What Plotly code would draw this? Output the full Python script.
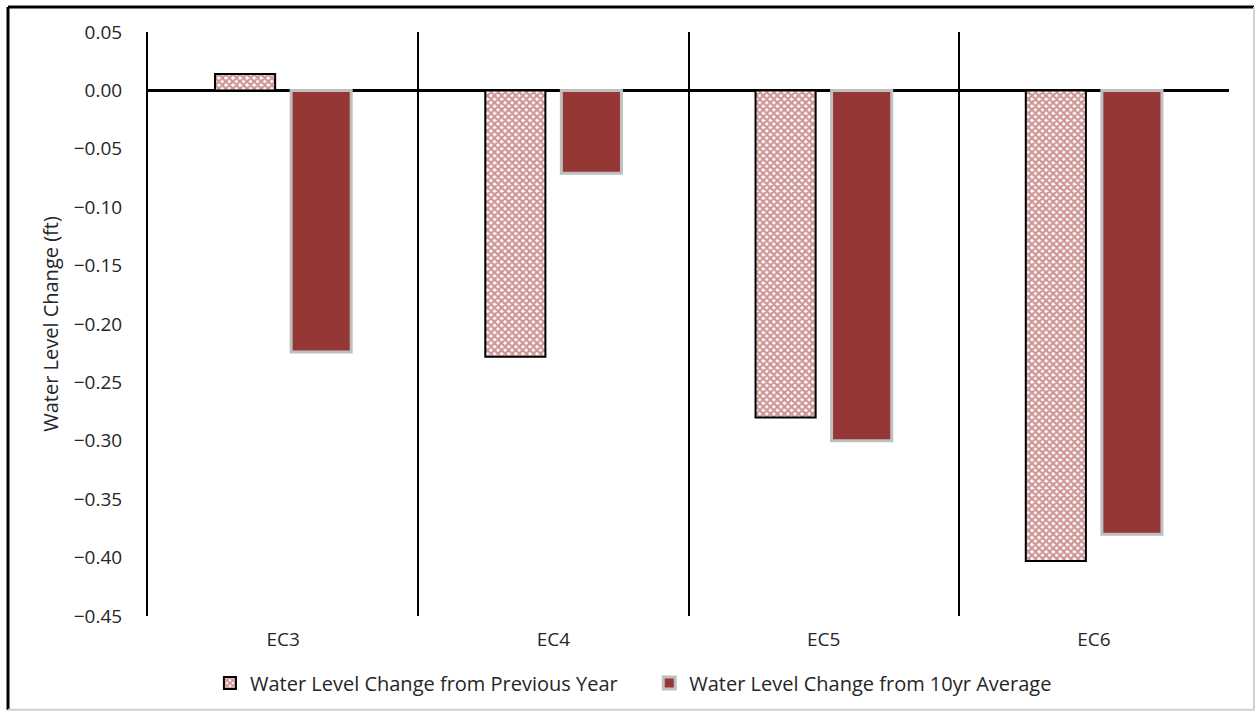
import plotly.graph_objects as go

# Monitoring wells and water-level changes (ft)
categories = ["EC3", "EC4", "EC5", "EC6"]
change_prev_year = [0.014, -0.228, -0.280, -0.403]
change_10yr_avg = [-0.224, -0.071, -0.300, -0.380]
y_ticks = [0.05, 0.00, -0.05, -0.10, -0.15, -0.20, -0.25, -0.30, -0.35, -0.40, -0.45]

x_pos = list(range(len(categories)))
FONT = "Open Sans"
TEXT = "#262626"

fig = go.Figure()
fig.add_trace(go.Bar(
    x=x_pos, y=change_prev_year,
    name="Water Level Change from Previous Year",
    legend="legend",
    marker=dict(
        color="white",
        line=dict(color="black", width=2),
        pattern=dict(shape="x", fgcolor="#9e2c2c", bgcolor="white", size=5, solidity=0.7),
    ),
))
fig.add_trace(go.Bar(
    x=x_pos, y=change_10yr_avg,
    name="Water Level Change from 10yr Average",
    legend="legend2",
    marker=dict(color="#953735", line=dict(color="#bfbfbf", width=3)),
))

# Chart-area frame: dark on top/left, light on right/bottom
frame = [
    dict(x0=-0.1295, x1=1.0231, y0=1.0427, y1=1.0427, color="black", w=3),
    dict(x0=-0.1295, x1=-0.1295, y0=-0.1607, y1=1.0427, color="black", w=3),
    dict(x0=1.0231, x1=1.0231, y0=-0.1607, y1=1.0427, color="#d0d0d0", w=2),
    dict(x0=-0.1295, x1=1.0231, y0=-0.1607, y1=-0.1607, color="#d0d0d0", w=2),
]
shapes = [
    dict(type="line", xref="paper", yref="paper", x0=f["x0"], x1=f["x1"], y0=f["y0"], y1=f["y1"],
         line=dict(color=f["color"], width=f["w"]))
    for f in frame
]

legend_style = dict(orientation="h", xanchor="left", y=-0.113, yanchor="middle",
                    font=dict(family=FONT, size=20, color=TEXT), itemwidth=30,
                    bgcolor="rgba(0,0,0,0)")

fig.update_layout(
    width=1257, height=713,
    margin=dict(l=148, r=28, t=32, b=96),
    paper_bgcolor="white", plot_bgcolor="white",
    barmode="group", bargap=0.437, bargroupgap=0.21,
    font=dict(family=FONT, size=19, color=TEXT),
    showlegend=True,
    legend=dict(x=0.0573, **legend_style),
    legend2=dict(x=0.4637, **legend_style),
    shapes=shapes,
    xaxis=dict(
        range=[-0.5, 3.5], tickvals=x_pos, ticktext=categories,
        showgrid=False, zeroline=False, showline=False, ticks="",
        ticklabelstandoff=10, tickfont=dict(family=FONT, size=19, color=TEXT),
        minor=dict(tick0=0.5, dtick=1, showgrid=True, gridcolor="black", gridwidth=2, ticks=""),
    ),
    yaxis=dict(
        range=[-0.45, 0.05], tickvals=y_ticks, tickformat=".2f",
        showgrid=False, showline=True, linecolor="black", linewidth=2, ticks="",
        zeroline=True, zerolinecolor="black", zerolinewidth=3,
        ticklabelstandoff=20, tickfont=dict(family=FONT, size=19, color=TEXT),
        title=dict(text="Water Level Change (ft)", standoff=10,
                   font=dict(family=FONT, size=20, color=TEXT)),
    ),
)

fig.write_html("out.html")
